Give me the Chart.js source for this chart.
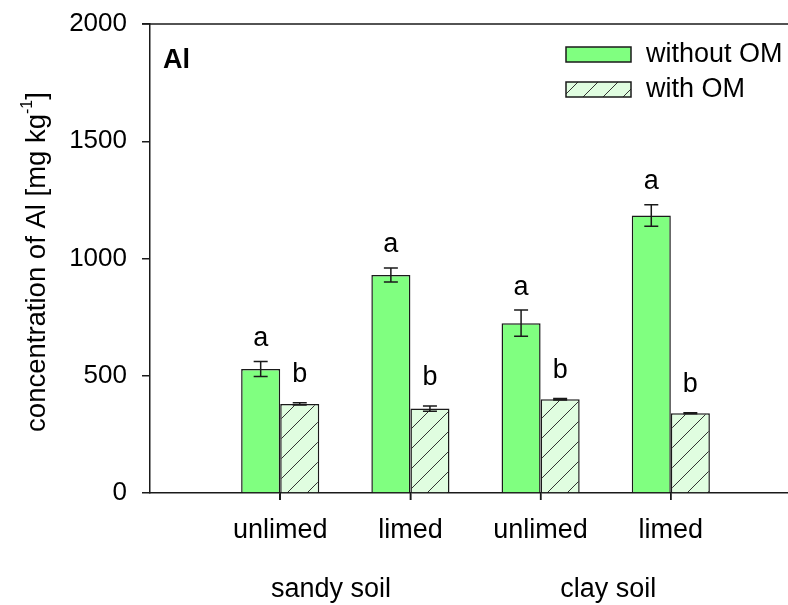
<!DOCTYPE html>
<html>
<head>
<meta charset="utf-8">
<script src="https://cdn.jsdelivr.net/npm/chart.js@4/dist/chart.umd.min.js"></script>
<style>
  body { margin: 0; background: #fff; }
  #wrap { width: 788px; height: 605px; }
</style>
</head>
<body>
<div id="wrap"><canvas id="alChart" width="788" height="605"></canvas></div>
<script>
// Al concentration, sandy vs clay soil, with / without organic matter
const categories = ['unlimed', 'limed', 'unlimed', 'limed'];
const soils = ['sandy soil', 'clay soil'];
const withoutOM = [529, 930, 724, 1183];
const withoutOMErr = [32, 30, 56, 46];
const withoutOMLetters = ['a', 'a', 'a', 'a'];
const withOM = [380, 360, 400, 340];
const withOMErr = [5, 11, 3, 2];
const withOMLetters = ['b', 'b', 'b', 'b'];
const yTicks = [0, 500, 1000, 1500, 2000];

const FONT = '"Liberation Sans", Arial, sans-serif';
const INK = '#1a1a1a';

// diagonal hatch for the "with OM" bars
function hatch() {
    const c = document.createElement('canvas');
    c.width = 20; c.height = 20;
    const g = c.getContext('2d');
    g.fillStyle = '#e0fde0';
    g.fillRect(0, 0, 20, 20);
    g.strokeStyle = '#333';
    g.lineWidth = 1;
    g.beginPath();
    g.moveTo(0, 20); g.lineTo(20, 0);
    g.moveTo(-5, 5); g.lineTo(5, -5);
    g.moveTo(15, 25); g.lineTo(25, 15);
    g.stroke();
    return g.createPattern(c, 'repeat');
}
const hatchFill = hatch();

const series = [
    { label: 'without OM', values: withoutOM, err: withoutOMErr, letters: withoutOMLetters, fill: '#80ff80', gap: 23 },
    { label: 'with OM', values: withOM, err: withOMErr, letters: withOMLetters, fill: hatchFill, gap: 28 }
];

const decorations = {
    id: 'decorations',
    afterDatasetsDraw(chart) {
        const ctx = chart.ctx;
        const x = chart.scales.x, y = chart.scales.y;
        const area = chart.chartArea;
        ctx.save();

        // top frame line
        ctx.strokeStyle = INK;
        ctx.lineWidth = 1.5;
        ctx.beginPath();
        ctx.moveTo(area.left - 8, area.top);
        ctx.lineTo(area.right, area.top);
        ctx.stroke();

        // category tick marks below the baseline
        ctx.beginPath();
        x.ticks.forEach(t => {
            const px = x.getPixelForValue(t.value);
            ctx.moveTo(px, area.bottom);
            ctx.lineTo(px, area.bottom + 7);
        });
        ctx.stroke();

        // error bars and significance letters
        series.forEach((s, di) => {
            const meta = chart.getDatasetMeta(di);
            meta.data.forEach((bar, i) => {
                const hi = y.getPixelForValue(s.values[i] + s.err[i]);
                const lo = y.getPixelForValue(s.values[i] - s.err[i]);
                ctx.strokeStyle = INK;
                ctx.lineWidth = 1.5;
                ctx.beginPath();
                ctx.moveTo(bar.x, hi); ctx.lineTo(bar.x, lo);
                ctx.moveTo(bar.x - 7, hi); ctx.lineTo(bar.x + 7, hi);
                ctx.moveTo(bar.x - 7, lo); ctx.lineTo(bar.x + 7, lo);
                ctx.stroke();
                ctx.fillStyle = '#000';
                ctx.font = '27px ' + FONT;
                ctx.textAlign = 'center';
                ctx.textBaseline = 'middle';
                ctx.fillText(s.letters[i], bar.x, hi - s.gap);
            });
        });

        // panel tag
        ctx.font = 'bold 27px ' + FONT;
        ctx.textAlign = 'left';
        ctx.textBaseline = 'alphabetic';
        ctx.fillText('Al', area.left + 13, 68);

        // legend
        series.forEach((s, i) => {
            const top = 47 + i * 35;
            ctx.fillStyle = s.fill;
            ctx.fillRect(566, top, 65, 15);
            ctx.strokeStyle = INK;
            ctx.lineWidth = 1.5;
            ctx.strokeRect(566, top, 65, 15);
            ctx.fillStyle = '#000';
            ctx.font = '27px ' + FONT;
            ctx.fillText(s.label, 646, top + 15);
        });

        // soil group labels under the category ticks
        ctx.textAlign = 'center';
        ctx.font = '27px ' + FONT;
        ctx.fillText(soils[0], x.getPixelForValue(1.39), 597);
        ctx.fillText(soils[1], x.getPixelForValue(3.52), 597);

        // rotated y title with superscript unit
        const main = 'concentration of Al [mg kg', sup = '-1', tail = ']';
        const big = '27.5px ' + FONT, small = '16px ' + FONT;
        ctx.font = big;
        const wMain = ctx.measureText(main).width;
        const wTail = ctx.measureText(tail).width;
        ctx.font = small;
        const wSup = ctx.measureText(sup).width;
        const total = wMain + wSup + wTail;
        ctx.translate(45, 262 + total / 2);
        ctx.rotate(-Math.PI / 2);
        ctx.textAlign = 'left';
        ctx.font = big;
        ctx.fillText(main, 0, 0);
        ctx.font = small;
        ctx.fillText(sup, wMain, -13);
        ctx.font = big;
        ctx.fillText(tail, wMain + wSup, 0);
        ctx.restore();
    }
};

new Chart(document.getElementById('alChart'), {
    type: 'bar',
    data: {
        datasets: series.map(s => ({
            label: s.label,
            data: s.values.map((v, i) => ({ x: i + 1, y: v })),
            backgroundColor: s.fill,
            borderColor: INK,
            borderWidth: 1.5,
            categoryPercentage: 0.6,
            barPercentage: 1.0
        }))
    },
    options: {
        responsive: false,
        animation: false,
        devicePixelRatio: 1,
        layout: { padding: { top: 24, right: 0, left: 0, bottom: 0 } },
        plugins: {
            legend: { display: false },
            tooltip: { enabled: false }
        },
        scales: {
            x: {
                type: 'linear',
                offset: false,
                min: 0,
                max: 4.9,
                afterBuildTicks: scale => {
                    scale.ticks = categories.map((c, i) => ({ value: i + 1 }));
                },
                afterFit: scale => {
                    scale.height = 112;
                    scale.paddingLeft = 0;
                    scale.paddingRight = 0;
                },
                grid: { offset: false, drawOnChartArea: false, tickLength: 7, color: INK, lineWidth: 1.5 },
                border: { display: true, color: INK, width: 1.5 },
                ticks: {
                    autoSkip: false,
                    maxRotation: 0,
                    padding: 14,
                    color: '#000',
                    font: { family: FONT, size: 27 },
                    callback: (v, i) => categories[i]
                }
            },
            y: {
                min: 0,
                max: 2000,
                afterBuildTicks: scale => {
                    scale.ticks = yTicks.map(v => ({ value: v }));
                },
                afterFit: scale => {
                    scale.width = 150;
                    scale.paddingTop = 0;
                    scale.paddingBottom = 0;
                },
                grid: { drawOnChartArea: false, tickLength: 8, color: INK, lineWidth: 1.5 },
                border: { display: true, color: INK, width: 1.5 },
                ticks: {
                    padding: 15,
                    color: '#000',
                    font: { family: FONT, size: 26 },
                    callback: v => String(v)
                }
            }
        }
    },
    plugins: [decorations]
});
</script>
</body>
</html>
